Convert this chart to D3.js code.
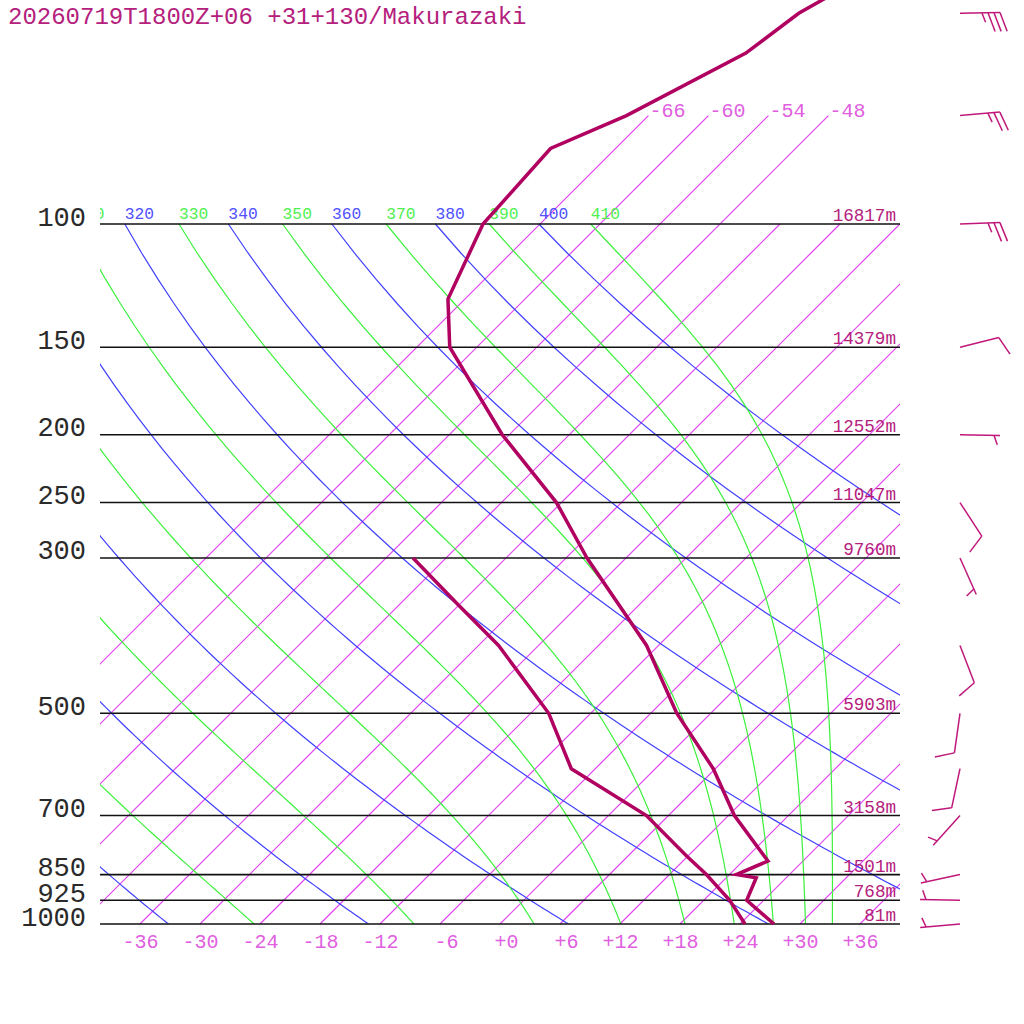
<!DOCTYPE html>
<html>
<head>
<meta charset="utf-8">
<script src="https://cdn.jsdelivr.net/npm/d3@7"></script>
<style>
body { margin: 0; background: #fff; }
text { font-family: "Liberation Mono", monospace; }
</style>
</head>
<body>
<svg id="chart" width="1024" height="1024"></svg>
<script>
var title = '20260719T1800Z+06 +31+130/Makurazaki'

// pressure levels drawn as lines, with their heights
var levels = [1000, 925, 850, 700, 500, 300, 250, 200, 150, 100]
var heights = ['81m', '768m', '1501m', '3158m', '5903m', '9760m', '11047m', '12552m', '14379m', '16817m']

var tempTicks = [-36, -30, -24, -18, -12, -6, 0, 6, 12, 18, 24, 30, 36]
var isotherms = [-66, -60, -54, -48, -42, -36, -30, -24, -18, -12, -6, 0, 6, 12, 18, 24, 30, 36]
var upperIsotherms = [-66, -60, -54, -48]
var dryThetas = [240, 260, 280, 300, 320, 340, 360, 380, 400]
var moistThetas = [250, 270, 290, 310, 330, 350, 370, 390, 410]

// sounding
var tempP = [1000, 925, 859, 850, 813, 700, 600, 500, 400, 300, 250, 200, 150, 128, 100, 78, 70, 57, 50, 40]
var tempT = [27.4, 22.3, 21.0, 18.7, 20.5, 12.6, 5.8, -3.4, -13.2, -27.9, -36.5, -48.7, -62.7, -67.7, -71.7, -72.5, -68.2, -62.5, -61.2, -56.0]
var dewP = [1000, 925, 850, 800, 700, 600, 500, 400, 350, 300]
var dewT = [24.5, 20.6, 15.7, 11.9, 3.8, -8.4, -16.2, -28.0, -36.1, -45.3]

// winds (direction deg, speed kt)
var windP = [1000, 925, 850, 700, 600, 500, 400, 300, 250, 200, 150, 100, 70, 50]
var windDir = [265, 271, 258, 222, 192, 188, 159, 156, 147, 91, 76, 88, 85, 89]
var windKt = [5, 5, 5, 5, 10, 10, 10, 5, 10, 5, 10, 25, 25, 35]

var svg = d3.select('#chart')

var y = d3.scaleLog().domain([1000, 100]).range([924, 224])
var x = d3.scaleLinear().domain([-40, 40]).range([100, 900])

// skewed x: 45 degrees
function sx(t, p) {
    return x(t) + y(1000) - y(p)
}

var samples = d3.range(1000, 99, -10)

function dryT(theta, p) {
    return theta * Math.pow(p / 1000, 0.286) - 273.15
}

function thetaE(tk, p) {
    var tc = tk - 273.15
    var es = 6.112 * Math.exp(17.67 * tc / (tc + 243.5))
    if (es > 0.3 * p) return Infinity
    var r = 622 * es / (p - es)
    return tk * Math.pow(1000 / p, 0.2854 * (1 - 0.00028 * r)) *
        Math.exp((3.376 / tk - 0.00254) * r * (1 + 0.00081 * r))
}

function moistT(the, p) {
    var lo = 120, hi = 340
    for (var i = 0; i < 60; i++) {
        var mid = (lo + hi) / 2
        if (thetaE(mid, p) > the) hi = mid
        else lo = mid
    }
    return (lo + hi) / 2 - 273.15
}

function labelT(th) {
    return dryThetas.indexOf(th) >= 0 ? dryT(th, 100) : moistT(th, 100)
}

var line = d3.line()
    .x(function(d) { return sx(d[0], d[1]) })
    .y(function(d) { return y(d[1]) })

var defs = svg.append('defs')
defs.append('clipPath').attr('id', 'plot')
    .append('rect')
    .attr('x', x(-40)).attr('y', 0)
    .attr('width', x(40) - x(-40)).attr('height', y(1000))

var grid = svg.append('g')
    .attr('clip-path', 'url(#plot)')

// isotherms
grid.append('g')
    .selectAll('path')
    .data(isotherms)
    .enter().append('path')
    .attr('d', function(t) {
        var top = upperIsotherms.indexOf(t) >= 0 ? 70 : 100
        return line([[t, 1000], [t, top]])
    })
    .style('fill', 'none')
    .style('stroke', 'rgb(226, 64, 240)')
    .style('stroke-width', 1.2)

// dry adiabats
grid.append('g')
    .selectAll('path')
    .data(dryThetas)
    .enter().append('path')
    .attr('d', function(th) {
        return line(samples.map(function(p) { return [dryT(th, p), p] }))
    })
    .attr('fill', 'none')
    .attr('stroke', '#4040ff')
    .attr('stroke-width', 1.2)

// moist adiabats
grid.append('g')
    .selectAll('path')
    .data(moistThetas)
    .enter().append('path')
    .attr('d', function(th) {
        return line(samples.map(function(p) { return [moistT(th, p), p] }))
    })
    .attr('fill', 'none')
    .attr('stroke', '#3cf03c')
    .attr('stroke-width', 1.2)

// adiabat labels along 100 hPa (only those reaching into the plot)
grid.append('g')
    .selectAll('text')
    .data(dryThetas.concat(moistThetas).filter(function(th) {
        return sx(labelT(th), 100) > 60
    }))
    .enter().append('text')
    .attr('x', function(th) { return sx(labelT(th), 100) })
    .attr('y', y(100) - 5.5)
    .attr('font-size', 16.3)
    .attr('fill', function(th) { return dryThetas.indexOf(th) >= 0 ? '#5050ff' : '#50f050' })
    .text(function(th) { return th })

// isotherm labels at 70 hPa
svg.append('g')
    .selectAll('text')
    .data(upperIsotherms)
    .enter().append('text')
    .attr('x', function(t) { return sx(t, 70) + 1 })
    .attr('y', y(70) + 1.5)
    .attr('font-size', 20)
    .attr('fill', '#e060e0')
    .text(function(t) { return t })

// pressure lines
svg.append('g')
    .selectAll('line')
    .data(levels)
    .enter().append('line')
    .attr('x1', x(-40)).attr('x2', x(40))
    .attr('y1', function(p) { return y(p) })
    .attr('y2', function(p) { return y(p) })
    .attr('stroke', '#111')
    .attr('stroke-width', 1.6)

// pressure labels
var yAxis = svg.append('g')
    .attr('transform', 'translate(' + x(-40) + ',0)')
    .call(d3.axisLeft(y).tickValues(levels).tickFormat(d3.format('d')).tickSize(0).tickPadding(14))
yAxis.select('.domain').remove()
yAxis.attr('font-family', null).attr('font-size', null)
yAxis.selectAll('text')
    .attr('dy', 0)
    .attr('y', 1)
    .attr('font-size', 27)
    .attr('fill', '#2a2a2a')

// temperature labels
var xAxis = svg.append('g')
    .attr('transform', 'translate(0,' + y(1000) + ')')
    .call(d3.axisBottom(x).tickValues(tempTicks).tickSize(0)
        .tickFormat(function(d) {
            var s = (d >= 0 ? '+' : '') + d
            while (s.length < 3) s = '\u00a0' + s
            return s
        }))
xAxis.select('.domain').remove()
xAxis.attr('font-family', null).attr('font-size', null)
xAxis.selectAll('text')
    .attr('dy', 0)
    .attr('y', 24)
    .attr('font-size', 20)
    .attr('fill', '#e060e0')

// height labels
svg.append('g')
    .selectAll('text')
    .data(levels)
    .enter().append('text')
    .attr('x', 896)
    .attr('y', function(p) { return y(p) - 3 })
    .attr('text-anchor', 'end')
    .attr('font-size', 17.6)
    .attr('fill', '#b4207c')
    .text(function(p, i) { return heights[i] })

// sounding lines
var sounding = d3.line()
    .x(function(d) { return sx(d[1], d[0]) })
    .y(function(d) { return y(d[0]) })

svg.append('path')
    .datum(d3.zip(dewP, dewT))
    .attr('d', sounding)
    .attr('fill', 'none')
    .attr('stroke', '#b00060')
    .attr('stroke-width', 3.5)

svg.append('path')
    .datum(d3.zip(tempP, tempT))
    .attr('d', sounding)
    .attr('fill', 'none')
    .attr('stroke', '#b00060')
    .attr('stroke-width', 3.5)

// wind barbs
var barbs = svg.append('g')
    .attr('stroke', '#c0187a')
    .attr('stroke-width', 1.5)
    .attr('fill', 'none')

windP.forEach(function(p, i) {
    var b = windDir[i] * Math.PI / 180
    var ux = Math.sin(b), uy = -Math.cos(b)
    var px = -uy, py = ux
    var ox = 960, oy = y(p)
    var staff = 40
    barbs.append('line')
        .attr('x1', ox).attr('y1', oy)
        .attr('x2', ox + staff * ux).attr('y2', oy + staff * uy)
    var full = Math.floor(windKt[i] / 10)
    var half = windKt[i] % 10 >= 5
    var pos = staff
    var ticks = []
    for (var k = 0; k < full; k++) { ticks.push([pos, 20]); pos -= 6 }
    if (half) {
        if (full === 0) pos -= 6
        ticks.push([pos, 10])
    }
    ticks.forEach(function(t) {
        var bx = ox + t[0] * ux, by = oy + t[0] * uy
        var ca = Math.cos(70 * Math.PI / 180), sa = Math.sin(70 * Math.PI / 180)
        barbs.append('line')
            .attr('x1', bx).attr('y1', by)
            .attr('x2', bx + t[1] * (ca * ux + sa * px))
            .attr('y2', by + t[1] * (ca * uy + sa * py))
    })
})

// title
svg.append('text')
    .attr('x', 8)
    .attr('y', 24)
    .attr('font-size', 24)
    .attr('fill', '#b4207c')
    .text(title)
</script>
</body>
</html>
